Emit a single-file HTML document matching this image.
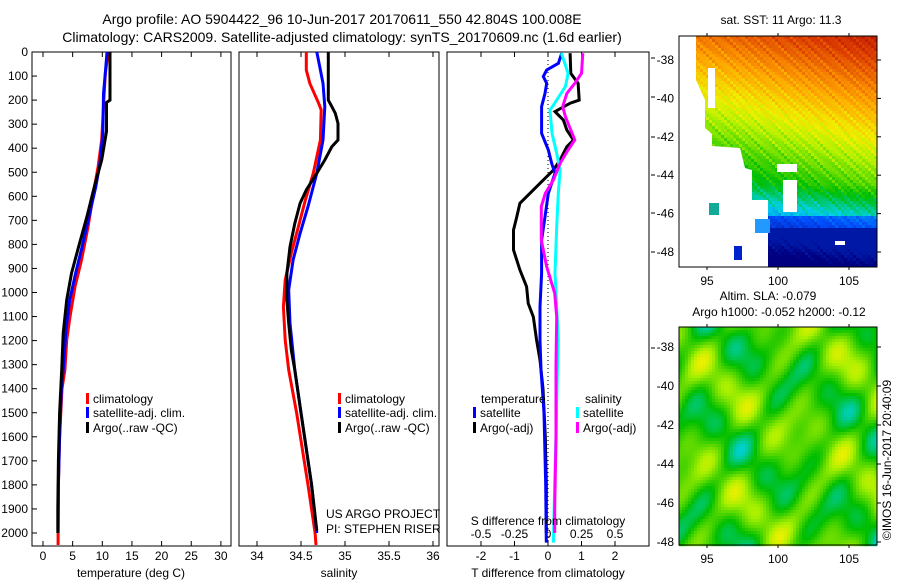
<!DOCTYPE html>
<html><head><meta charset="utf-8"><style>
html,body{margin:0;padding:0;background:#fff;overflow:hidden;}
svg text{font-family:"Liberation Sans",sans-serif;fill:#000;}
</style></head><body>
<svg id="fig" width="900" height="580" viewBox="0 0 900 580" xmlns="http://www.w3.org/2000/svg">
<text x="342" y="24" font-size="14" text-anchor="middle">Argo profile: AO 5904422_96 10-Jun-2017 20170611_550 42.804S 100.008E</text>
<text x="342" y="42" font-size="14" text-anchor="middle">Climatology: CARS2009. Satellite-adjusted climatology: synTS_20170609.nc (1.6d earlier)</text>
<g id="maps"></g>
<g id="plots"></g>
</svg>
<script>
// ---- data ----
const depthTicks = [0,100,200,300,400,500,600,700,800,900,1000,1100,1200,1300,1400,1500,1600,1700,1800,1900,2000];
const tempTicks = [0,5,10,15,20,25,30];
const salTicks = [34,34.5,35,35.5,36];
const salTickLabels = ["34","34.5","35","35.5","36"];
const tdiffTicks = [-2,-1,0,1,2];
const sdiffTicks = [-0.5,-0.25,0,0.25,0.5];
const sdiffTickLabels = ["-0.5","-0.25","0","0.25","0.5"];

const tClimDepth = [0,89,227,366,477,588,726,865,976,1101,1198,1322,1400,1600,1800,2000,2050];
const tClimVal = [11.0,10.5,10.2,9.9,9.3,8.5,7.6,6.5,5.4,4.55,4.0,3.7,3.2,2.8,2.6,2.55,2.55];
const tSatDepth = [0,89,172,338,463,560,810,920,1031,1150,1322,1400,1600,1800,2000];
const tSatVal = [10.8,10.5,10.2,10.1,9.6,8.9,6.6,5.5,4.5,3.9,3.4,3.1,2.8,2.6,2.55];
const tArgoDepth = [0,200,210,330,449,546,685,810,920,1031,1170,1322,1500,1700,1900,2000];
const tArgoVal = [11.3,11.3,10.7,10.7,9.9,8.8,7.4,6.0,4.8,4.0,3.4,3.15,2.8,2.6,2.5,2.5];

const sClimDepth = [0,75,130,213,241,366,504,615,726,837,948,1059,1198,1322,1500,1800,2000,2050];
const sClimVal = [34.56,34.56,34.60,34.70,34.73,34.72,34.64,34.55,34.47,34.39,34.32,34.30,34.32,34.36,34.45,34.58,34.66,34.67];
const sSatDepth = [0,75,130,227,366,504,643,754,865,989,1128,1322,1500,1800,2000];
const sSatVal = [34.68,34.72,34.75,34.77,34.75,34.68,34.58,34.49,34.41,34.36,34.375,34.43,34.50,34.62,34.68];
const sArgoDepth = [0,200,227,255,297,366,394,449,504,574,629,713,810,920,1031,1128,1239,1322,1500,1800,1990];
const sArgoVal = [34.81,34.81,34.85,34.89,34.92,34.92,34.85,34.77,34.68,34.56,34.49,34.43,34.375,34.34,34.34,34.36,34.39,34.43,34.50,34.62,34.68];

const dtArgoDepth = [5,89,130,200,213,248,283,324,366,394,449,491,546,629,685,740,823,906,976,1045,1101,1198,1281,1322,1400,1600,1800,2000];
const dtArgoVal = [0.66,0.68,0.90,0.93,0.66,0.21,0.46,0.56,0.76,0.56,0.36,0.16,-0.24,-0.84,-0.93,-1.03,-1.03,-0.84,-0.64,-0.59,-0.44,-0.34,-0.24,-0.21,-0.15,-0.08,-0.05,-0.05];
const dtSatDepth = [5,47,75,102,130,172,227,338,407,463,504,588,685,782,920,1059,1198,1322,1500,1800,2040];
const dtSatVal = [0.41,0.31,-0.04,-0.14,-0.04,-0.09,-0.19,-0.19,0.01,0.11,0.21,0.01,-0.09,-0.19,-0.19,-0.24,-0.24,-0.21,-0.12,-0.07,-0.05];
const dsSatDepth = [5,89,144,213,241,338,421,491,588,726,920,1059,1198,1322,1600,1800,2040];
const dsSatVal = [0.10,0.15,0.13,0.05,0.015,0.03,0.065,0.09,0.077,0.065,0.052,0.065,0.077,0.07,0.06,0.05,0.04];
const dsArgoDepth = [5,89,130,172,227,269,310,366,407,463,532,588,643,782,893,1003,1101,1300,1600,1900,2000];
const dsArgoVal = [0.26,0.25,0.20,0.14,0.11,0.13,0.16,0.20,0.15,0.09,0.04,-0.02,-0.05,-0.05,-0.01,0.05,0.065,0.06,0.06,0.05,0.05];

const mapLatTicks = [-38,-40,-42,-44,-46,-48];
const mapLonTicks = [95,100,105];

// ---- geometry ----
const NS='http://www.w3.org/2000/svg';
const plots=document.getElementById('plots');
const maps=document.getElementById('maps');
const TOP=52, BOT=546;
const yD = d => TOP + d*0.2405;
const xT = v => 43 + v*5.93;
const xS = v => 257 + (v-34)*88;
const xDT = v => 548 + v*33.5;
const xDS = v => 548 + v*134;
function mk(tag, attrs, parent){const e=document.createElementNS(NS,tag);for(const k in attrs)e.setAttribute(k,attrs[k]);(parent||plots).appendChild(e);return e;}
function txt(x,y,s,size,anchor,parent){const t=mk('text',{x:x,y:y,'font-size':size||12,'text-anchor':anchor||'start'},parent);t.textContent=s;return t;}
function line(depths, vals, xf, color, name, w){
  const pts=depths.map((d,i)=>xf(vals[i]).toFixed(1)+','+yD(d).toFixed(1)).join(' ');
  const p=mk('polyline',{points:pts,fill:'none',stroke:color,'stroke-width':w||3,'stroke-linejoin':'miter'});
  
  
}
function frame(x0,x1,name){
  const r=mk('rect',{x:x0,y:TOP,width:x1-x0,height:BOT-TOP,fill:'none',stroke:'#000','stroke-width':1});
  
  
}
function xticks(vals,labels,xf,yLab){
  vals.forEach((v,i)=>{const x=xf(v);
    mk('line',{x1:x,x2:x,y1:TOP,y2:TOP+5,stroke:'#000'});
    mk('line',{x1:x,x2:x,y1:BOT,y2:BOT-5,stroke:'#000'});
    const t=txt(x,yLab,labels[i],12,'middle');
    
    
  });
}
function legendRow(x,y,color,label){
  mk('rect',{x:x,y:y-10,width:3,height:11,fill:color});
  const t=txt(x+7,y,label,12);
  
  
}

// panel 1: temperature
frame(32,231,'temperature-panel');
depthTicks.forEach(d=>{const y=yD(d);
  mk('line',{x1:32,x2:37,y1:y,y2:y,stroke:'#000'});
  const t=txt(28,y+4,String(d),12,'end');
  
  
});
xticks(tempTicks,tempTicks.map(String),xT,560);
line(tClimDepth,tClimVal,xT,'#f00','temp-climatology-line');
line(tSatDepth,tSatVal,xT,'#00f','temp-satellite-line');
line(tArgoDepth,tArgoVal,xT,'#000','temp-argo-line');
legendRow(86,403,'#f00','climatology');
legendRow(86,417,'#00f','satellite-adj. clim.');
legendRow(86,432,'#000','Argo(..raw -QC)');
txt(131,577,'temperature (deg C)',12,'middle');

// panel 2: salinity
frame(239,439,'salinity-panel');
xticks(salTicks,salTickLabels,xS,560);
line(sClimDepth,sClimVal,xS,'#f00','sal-climatology-line');
line(sSatDepth,sSatVal,xS,'#00f','sal-satellite-line');
line(sArgoDepth,sArgoVal,xS,'#000','sal-argo-line');
legendRow(338,403,'#f00','climatology');
legendRow(338,417,'#00f','satellite-adj. clim.');
legendRow(338,432,'#000','Argo(..raw -QC)');
txt(326,518,'US ARGO PROJECT',12);
txt(326,533,'PI: STEPHEN RISER',12);
txt(339,577,'salinity',12,'middle');

// panel 3: differences
frame(447,649,'difference-panel');
mk('line',{x1:xDT(0),x2:xDT(0),y1:TOP,y2:BOT,stroke:'#000','stroke-dasharray':'1,3'});
xticks(tdiffTicks,tdiffTicks.map(String),xDT,560);
sdiffTicks.forEach((v,i)=>{const t=txt(xDS(v),538,sdiffTickLabels[i],12,'middle');
  
  
  mk('line',{x1:xDS(v),x2:xDS(v),y1:541,y2:546,stroke:'#000'});
});
line(dtArgoDepth,dtArgoVal,xDT,'#000','tdiff-argo-line');
line(dtSatDepth,dtSatVal,xDT,'#00f','tdiff-satellite-line');
line(dsSatDepth,dsSatVal,xDS,'#0ff','sdiff-satellite-line');
line(dsArgoDepth,dsArgoVal,xDS,'#f0f','sdiff-argo-line');
txt(481,403,'temperature',12);
txt(585,403,'salinity',12);
legendRow(473,417,'#00f','satellite');
legendRow(473,432,'#000','Argo(-adj)');
legendRow(576,417,'#0ff','satellite');
legendRow(576,432,'#f0f','Argo(-adj)');
txt(548,525,'S difference from climatology',12,'middle');
txt(548,577,'T difference from climatology',12,'middle');
[58,97,137,175,213,252,348].forEach(y=>mk('line',{x1:651,x2:655,y1:y,y2:y,stroke:'#000'}));

// ---- maps ----
const cmapStops=[[0,[0,0,128]],[0.2,[0,80,255]],[0.36,[0,210,230]],[0.48,[0,190,0]],[0.6,[170,240,0]],[0.66,[240,240,0]],[0.76,[255,160,0]],[0.88,[220,60,0]],[1,[160,0,0]]];
function cmap(t){t=Math.max(0,Math.min(1,t));
  for(let i=1;i<cmapStops.length;i++){const [t1,c1]=cmapStops[i],[t0,c0]=cmapStops[i-1];
    if(t<=t1){const f=(t-t0)/(t1-t0);return 'rgb('+c0.map((c,k)=>Math.round(c+(c1[k]-c)*f)).join(',')+')';}}
  return 'rgb(160,0,0)';}
function mapAxes(x0,y0,x1,y1,latY,lonX,name){
  const r=mk('rect',{x:x0,y:y0,width:x1-x0,height:y1-y0,fill:'none',stroke:'#000'},maps);
  
  
  mapLatTicks.forEach(l=>{const y=latY(l);
    mk('line',{x1:x1,x2:x1+4,y1:y,y2:y,stroke:'#000'},maps);
    txt(x0-5,y+4,String(l),12,'end',maps);});
  mapLonTicks.forEach(l=>{const x=lonX(l);
    mk('line',{x1:x,x2:x,y1:y0-3,y2:y0,stroke:'#000'},maps);
    mk('line',{x1:x,x2:x,y1:y1,y2:y1+3,stroke:'#000'},maps);
    txt(x,y1+18,String(l),12,'middle',maps);});
}
// SST map
(function(){
  const x0=679,x1=877,y0=36,y1=267;
  const latY=l=>60+(-38-l)*19.2, lonX=l=>707+(l-95)*14.2;
  const g=mk('g',{},maps);  
  for(let y=y0;y<y1;y+=3){for(let x=x0;x<x1;x+=3){
    const lat=-38-(y-60)/19.2, lon=95+(x-707)/14.2;
    let t;
    if(lat>-44.3) t=0.86-(-36.8-lat)*0.05; else if(lat>-46) t=0.49-(-44.3-lat)*0.1; else t=0.2-(-46-lat)*0.1;
    t+= (lon-100)*0.01 + 0.035*Math.sin(x*0.7+y*0.3)*Math.sin(y*0.9+x*0.2);
    if(lat<-46.6) t=Math.min(t,0.06);
    mk('rect',{x:x,y:y,width:3.2,height:3.2,fill:cmap(t)},g);
  }}
  mk('polygon',{points:'679,36 696,36 696,80 705,100 705,128 712,134 712,146 740,148 745,168 752,170 752,200 768,200 768,267 679,267',fill:'#fff'},g);
  mk('rect',{x:708,y:68,width:7,height:40,fill:'#fff'},g);
  mk('rect',{x:783,y:180,width:14,height:32,fill:'#fff'},g);
  mk('rect',{x:777,y:164,width:20,height:8,fill:'#fff'},g);
  mk('rect',{x:835,y:241,width:10,height:4,fill:'#fff'},g);
  mk('rect',{x:709,y:203,width:10,height:12,fill:'#1a9'},g);
  mk('rect',{x:755,y:219,width:15,height:14,fill:'#29f'},g);
  mk('rect',{x:734,y:246,width:8,height:14,fill:'#02c'},g);
  mapAxes(x0,y0,x1,y1,latY,lonX,'sst-map-frame');
  txt(781,24,'sat. SST: 11 Argo: 11.3',12,'middle',maps);
})();
// SLA map
(function(){
  const x0=679,x1=877,y0=327,y1=545;
  const latY=l=>542-(l+48)*19.5, lonX=l=>707+(l-95)*14.2;
  const g=mk('g',{},maps);  
  for(let y=y0;y<y1;y+=3){for(let x=x0;x<x1;x+=3){
    const t=0.52+0.07*Math.sin(x*0.09+1)*Math.cos(y*0.07)+0.05*Math.sin(x*0.04-y*0.06+2)+0.03*Math.cos(x*0.15+y*0.11);
    mk('rect',{x:x,y:y,width:3.2,height:3.2,fill:cmap(t)},g);
  }}
  mapAxes(x0,y0,x1,y1,latY,lonX,'sla-map-frame');
  txt(768,300,'Altim. SLA: -0.079',12,'middle',maps);
  txt(779,316,'Argo h1000: -0.052 h2000: -0.12',12,'middle',maps);
})();
const cr=txt(0,0,'©IMOS 16-Jun-2017 20:40:09',12,'middle',maps);
cr.setAttribute('transform','translate(891,460) rotate(-90)');


</script>
</body></html>
